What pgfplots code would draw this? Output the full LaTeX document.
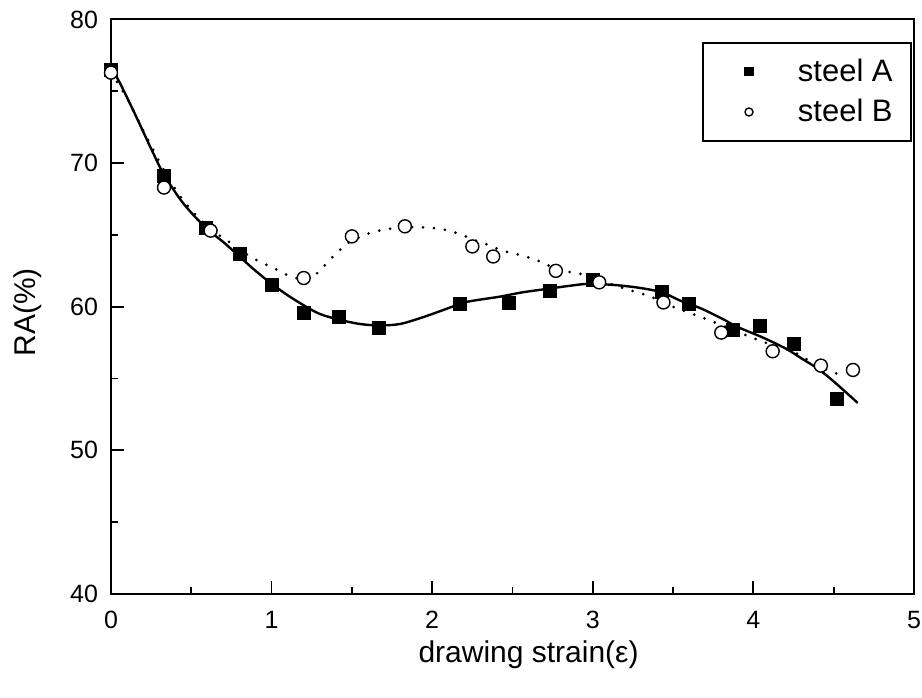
\documentclass[border=0pt]{standalone}
\usepackage{fontspec}
\setmainfont{Liberation Sans}
\usepackage{pgfplots}
\pgfplotsset{compat=1.18}

\begin{document}
\begin{tikzpicture}
\begin{axis}[
  scale only axis, width=401.5pt, height=287.25pt,
  at={(0,0)}, anchor=south west,
  xmin=0, xmax=5, ymin=40, ymax=80,
  xtick={0,1,2,3,4,5}, ytick={40,50,60,70,80},
  minor xtick={0.5,1.5,2.5,3.5,4.5}, minor ytick={45,55,65,75},
  tick align=inside, xtick pos=bottom, ytick pos=left,
  major tick length=6.3pt, minor tick length=3.5pt,
  axis line style={line width=1pt}, every tick/.style={black, line width=0.9pt},
  tick label style={font=\fontsize{12.5}{12.5}\selectfont},
  /pgf/number format/assume math mode=true,
  xticklabel style={yshift=-5pt}, yticklabel style={xshift=-3pt},
  xlabel={drawing strain(ε)}, ylabel={RA(\%)},
  label style={font=\fontsize{15}{15}\selectfont, inner sep=0pt},
  xlabel style={at={(axis description cs:0.52,-0.08)}, anchor=north},
  ylabel style={at={(axis description cs:-0.086,0.49)}, anchor=south},
  legend style={at={(0.997,0.961)}, anchor=north east, draw=black, line width=0.9pt,
    font=\fontsize{15.5}{15.5}\selectfont, inner xsep=9pt, inner ysep=8pt, row sep=7.5pt,
    nodes={inner sep=0pt}, /tikz/every odd column/.style={column sep=12.5pt}},
  legend cell align=left,
  legend image code/.code={%
    \path (0pt,0pt) (25pt,0pt);
    \draw[#1, mark size=2pt] plot coordinates {(13.5pt,0pt)};},
]
% fitted curves
\addplot[black, line width=1.2pt, smooth, forget plot] coordinates {
  (0,76.6)(0.05,75.7)(0.15,73.4)(0.25,71.0)(0.33,69.2)(0.45,67.2)(0.59,65.5)
  (0.7,64.5)(0.8,63.5)(0.9,62.5)(1.0,61.6)(1.1,60.8)(1.2,60.1)(1.3,59.5)
  (1.42,59.1)(1.55,58.8)(1.67,58.7)(1.8,58.8)(1.95,59.3)(2.1,59.9)(2.2,60.3)
  (2.3,60.5)(2.42,60.7)(2.56,61.0)(2.72,61.25)(2.85,61.45)(2.98,61.6)(3.15,61.5)
  (3.3,61.3)(3.43,61.0)(3.55,60.4)(3.67,59.9)(3.8,59.2)(3.9,58.6)(4.05,57.9)
  (4.2,57.1)(4.3,56.4)(4.4,55.7)(4.5,54.8)(4.65,53.3)};
\addplot[black, line width=1.5pt, line cap=round, dash pattern=on 0pt off 5.5pt, smooth, forget plot] coordinates {
  (0,76.3)(0.1,74.5)(0.2,72.3)(0.33,69.5)(0.45,67.4)(0.6,65.6)(0.75,64.4)
  (0.88,63.4)(1.03,62.6)(1.12,62.1)(1.2,61.95)(1.28,62.3)(1.34,63.0)(1.42,63.9)
  (1.5,64.6)(1.63,65.2)(1.75,65.45)(1.85,65.55)(2.03,65.45)(2.15,65.15)(2.25,64.7)
  (2.35,64.3)(2.44,63.9)(2.55,63.6)(2.65,63.25)(2.75,62.75)(2.84,62.45)(2.96,62.2)
  (3.08,61.7)(3.19,61.3)(3.36,60.7)(3.5,60.0)(3.62,59.5)(3.75,58.95)(3.87,58.4)
  (3.98,57.9)(4.1,57.4)(4.25,56.85)(4.42,55.8)(4.58,55.1)};
% measured points
\addplot[only marks, mark=square*, mark size=3.25pt, mark options={fill=black, draw=black}] coordinates {
  (0,76.5)(0.33,69.1)(0.59,65.5)(0.80,63.7)(1.00,61.5)(1.20,59.6)(1.42,59.3)
  (1.67,58.5)(2.17,60.2)(2.48,60.3)(2.73,61.1)(3.00,61.9)(3.43,61.0)(3.60,60.2)
  (3.87,58.4)(4.04,58.7)(4.25,57.4)(4.52,53.6)};
\addlegendentry{steel A}
\addplot[only marks, mark=*, mark size=3.25pt, mark options={fill=white, draw=black, line width=0.7pt}] coordinates {
  (0,76.3)(0.33,68.3)(0.62,65.3)(1.20,62.0)(1.50,64.9)(1.83,65.6)(2.25,64.2)
  (2.38,63.5)(2.77,62.5)(3.04,61.7)(3.44,60.3)(3.80,58.2)(4.12,56.9)(4.42,55.9)
  (4.62,55.6)};
\addlegendentry{steel B}
\end{axis}
\pgfresetboundingbox
\path[use as bounding box] (-55.5pt,-51.5pt) rectangle (405.5pt,297pt);
\end{tikzpicture}
\end{document}
